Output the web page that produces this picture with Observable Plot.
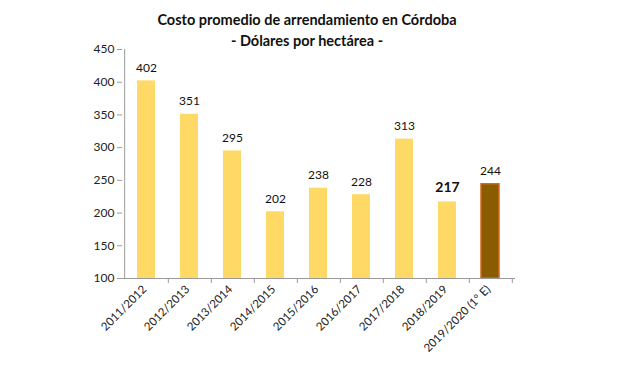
<!DOCTYPE html>
<html>
<head>
<meta charset="utf-8">
<script src="https://cdn.jsdelivr.net/npm/d3@7"></script>
<script src="https://cdn.jsdelivr.net/npm/@observablehq/plot@0.6"></script>
<style>
  html, body { margin: 0; padding: 0; background: #fff; }
  #wrap { position: relative; width: 630px; height: 378px; overflow: hidden; }
  #title { position: absolute; left: 0; top: 9px; width: 614px; text-align: center;
    font-family: Lato, "Open Sans", sans-serif; font-weight: bold; font-size: 14.5px; line-height: 21px; color: #111; }
  #chart { position: absolute; left: 0; top: 0; }
</style>
</head>
<body>
<div id="wrap">
  <div id="chart"></div>
  <div id="title">Costo promedio de arrendamiento en Córdoba<br>- Dólares por hectárea -</div>
</div>
<script>
const campaigns = ["2011/2012","2012/2013","2013/2014","2014/2015","2015/2016","2016/2017","2017/2018","2018/2019","2019/2020 (1° E)"];
const costs = [402, 351, 295, 202, 238, 228, 313, 217, 244];
const yTicks = [100, 150, 200, 250, 300, 350, 400, 450];
const estimated = "2019/2020 (1° E)";
const highlighted = "2018/2019";

const data = campaigns.map((c, i) => ({campaign: c, cost: costs[i]}));

const W = 630, H = 378, mL = 122, mR = 115, mT = 49, mB = 100;
const step = (W - mL - mR) / campaigns.length;
const axisColor = "#9a9a9a";

const chart = Plot.plot({
  width: W, height: H,
  marginLeft: mL, marginRight: mR, marginTop: mT, marginBottom: mB,
  style: {fontFamily: "Lato, 'Open Sans', sans-serif", fontSize: "11px", color: "#222", background: "transparent"},
  x: {domain: campaigns, paddingInner: 0.58, paddingOuter: 0.29, label: null},
  y: {domain: [100, 450], ticks: yTicks, label: null},
  marks: [
    Plot.barY(data, {
      x: "campaign", y1: 100, y2: "cost",
      fill: d => d.campaign === estimated ? "#8a5c00" : "#ffd966",
      stroke: d => d.campaign === estimated ? "#d4661c" : "none",
      strokeWidth: 1.5
    }),
    Plot.text(data.filter(d => d.campaign !== highlighted), {
      x: "campaign", y: "cost", text: d => String(d.cost),
      dy: -13, fontSize: 12, fill: "#111"
    }),
    Plot.text(data.filter(d => d.campaign === highlighted), {
      x: "campaign", y: "cost", text: d => String(d.cost),
      dy: -14, fontSize: 14, fontWeight: "bold", fill: "#111"
    }),
    // y axis line and ticks
    Plot.ruleX([0], {x: () => campaigns[0], dx: -step / 2, y1: 100, y2: 450, stroke: axisColor}),
    Plot.axisY({ticks: yTicks, tickSize: 5, stroke: axisColor, tickPadding: 3, fontSize: 12, fill: "#222"}),
    // x axis line
    Plot.ruleY([100], {stroke: axisColor}),
    // x ticks at band boundaries
    Plot.ruleX(campaigns, {x: d => d, dx: step / 2, y1: 100, y2: 100, insetBottom: -5, stroke: axisColor}),
    Plot.axisX({tickSize: 0, tickRotate: -45, tickPadding: 9, dx: -2, fontSize: 11.5, fill: "#222"})
  ]
});
document.getElementById("chart").appendChild(chart);
</script>
</body>
</html>
